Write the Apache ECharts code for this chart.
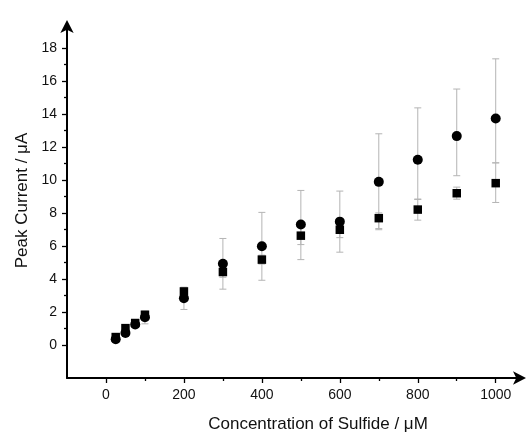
<!DOCTYPE html>
<html>
<head>
<meta charset="utf-8">
<script src="https://cdn.jsdelivr.net/npm/echarts@6/dist/echarts.min.js"></script>
<style>
html,body{margin:0;padding:0;background:#fff;}
#chart{width:528px;height:433px;}
</style>
</head>
<body>
<div id="chart"></div>
<script>
// Data
const concentration = [25, 50, 75, 100, 200, 300, 400, 500, 600, 700, 800, 900, 1000];
const circleValues = [0.35, 0.73, 1.24, 1.68, 2.83, 4.92, 5.98, 7.30, 7.47, 9.88, 11.22, 12.65, 13.72];
const circleLow    = [0.20, 0.55, 1.10, 1.28, 2.15, 3.38, 3.92, 5.17, 5.62, 6.98, 8.81, 10.25, 11.03];
const circleHigh   = [0.50, 0.90, 1.40, 2.05, 3.50, 6.45, 8.03, 9.36, 9.32, 12.79, 14.36, 15.50, 17.33];
const squareValues = [0.48, 1.02, 1.33, 1.83, 3.24, 4.42, 5.17, 6.62, 6.98, 7.68, 8.20, 9.19, 9.80];
const squareLow    = [0.40, 0.90, 1.25, 1.70, 3.00, 4.10, 4.90, 6.08, 6.50, 7.05, 7.56, 8.83, 8.63];
const squareHigh   = [0.56, 1.14, 1.41, 1.96, 3.48, 4.74, 5.44, 7.16, 7.46, 8.00, 8.84, 9.56, 11.03];
const xMajorTicks = [0, 200, 400, 600, 800, 1000];
const xMinorTicks = [100, 300, 500, 700, 900];
const yMajorTicks = [0, 2, 4, 6, 8, 10, 12, 14, 16, 18];
const yMinorTicks = [1, 3, 5, 7, 9, 11, 13, 15, 17];

const X_MIN = -100, X_MAX = 1070, Y_MIN = -2, Y_MAX = 19.5;
const FONT = 'Liberation Sans, Arial, sans-serif';

function errData(lo, hi) {
  return concentration.map((c, i) => [c, lo[i], hi[i]]);
}

function errRender(params, api) {
  const x = api.value(0);
  const lo = api.coord([x, api.value(1)]);
  const hi = api.coord([x, api.value(2)]);
  const w = 3.5;
  const style = { stroke: '#b4b4b4', lineWidth: 1 };
  return {
    type: 'group',
    children: [
      { type: 'line', shape: { x1: lo[0], y1: lo[1], x2: hi[0], y2: hi[1] }, style },
      { type: 'line', shape: { x1: lo[0] - w, y1: lo[1], x2: lo[0] + w, y2: lo[1] }, style },
      { type: 'line', shape: { x1: hi[0] - w, y1: hi[1], x2: hi[0] + w, y2: hi[1] }, style }
    ]
  };
}

const chart = echarts.init(document.getElementById('chart'), null, { renderer: 'canvas' });

const option = {
  animation: false,
  backgroundColor: '#fff',
  grid: { left: 67, right: 5, top: 23, bottom: 55, containLabel: false, outerBoundsMode: 'none' },
  xAxis: [
    {
      type: 'value', position: 'bottom', min: X_MIN, max: X_MAX,
      name: 'Concentration of Sulfide / μM', nameLocation: 'middle', nameGap: 38,
      nameTextStyle: { fontFamily: FONT, fontSize: 17, color: '#111', padding: [0, 0, 0, 46] },
      axisLine: { show: true, onZero: false, lineStyle: { color: '#000', width: 2 }, symbol: ['none', 'arrow'], symbolSize: [10, 13], symbolOffset: [0, 3] },
      axisTick: { show: true, inside: false, length: 5, lineStyle: { color: '#000', width: 1.3 }, customValues: xMajorTicks },
      axisLabel: { show: true, margin: 10, fontFamily: FONT, fontSize: 14, color: '#111', customValues: xMajorTicks, formatter: v => String(v) },
      splitLine: { show: false }
    },
    {
      type: 'value', position: 'bottom', min: X_MIN, max: X_MAX,
      axisLine: { show: false, onZero: false },
      axisTick: { show: true, inside: false, length: 3, lineStyle: { color: '#000', width: 1.3 }, customValues: xMinorTicks },
      axisLabel: { show: false },
      splitLine: { show: false }
    }
  ],
  yAxis: [
    {
      type: 'value', position: 'left', min: Y_MIN, max: Y_MAX,
      name: 'Peak Current / μA', nameLocation: 'middle', nameGap: 32,
      nameTextStyle: { fontFamily: FONT, fontSize: 17, color: '#111' },
      axisLine: { show: true, onZero: false, lineStyle: { color: '#000', width: 2 }, symbol: ['none', 'arrow'], symbolSize: [10, 13], symbolOffset: [0, 3] },
      axisTick: { show: true, inside: false, length: 5, lineStyle: { color: '#000', width: 1.3 }, customValues: yMajorTicks },
      axisLabel: { show: true, margin: 10, fontFamily: FONT, fontSize: 14, color: '#111', customValues: yMajorTicks, formatter: v => String(v) },
      splitLine: { show: false }
    },
    {
      type: 'value', position: 'left', min: Y_MIN, max: Y_MAX,
      axisLine: { show: false, onZero: false },
      axisTick: { show: true, inside: false, length: 3, lineStyle: { color: '#000', width: 1.3 }, customValues: yMinorTicks },
      axisLabel: { show: false },
      splitLine: { show: false }
    }
  ],
  series: [
    {
      type: 'custom', name: 'circleErr', renderItem: errRender, data: errData(circleLow, circleHigh),
      encode: { x: 0, y: [1, 2] }, z: 1, silent: true
    },
    {
      type: 'custom', name: 'squareErr', renderItem: errRender, data: errData(squareLow, squareHigh),
      encode: { x: 0, y: [1, 2] }, z: 1, silent: true
    },
    {
      type: 'scatter', name: 'circle', symbol: 'circle', symbolSize: 10,
      data: concentration.map((c, i) => [c, circleValues[i]]),
      itemStyle: { color: '#000', opacity: 1 }, z: 3
    },
    {
      type: 'scatter', name: 'square', symbol: 'rect', symbolSize: 8.5,
      data: concentration.map((c, i) => [c, squareValues[i]]),
      itemStyle: { color: '#000', opacity: 1 }, z: 4
    }
  ]
};
chart.setOption(option);
</script>
</body>
</html>
